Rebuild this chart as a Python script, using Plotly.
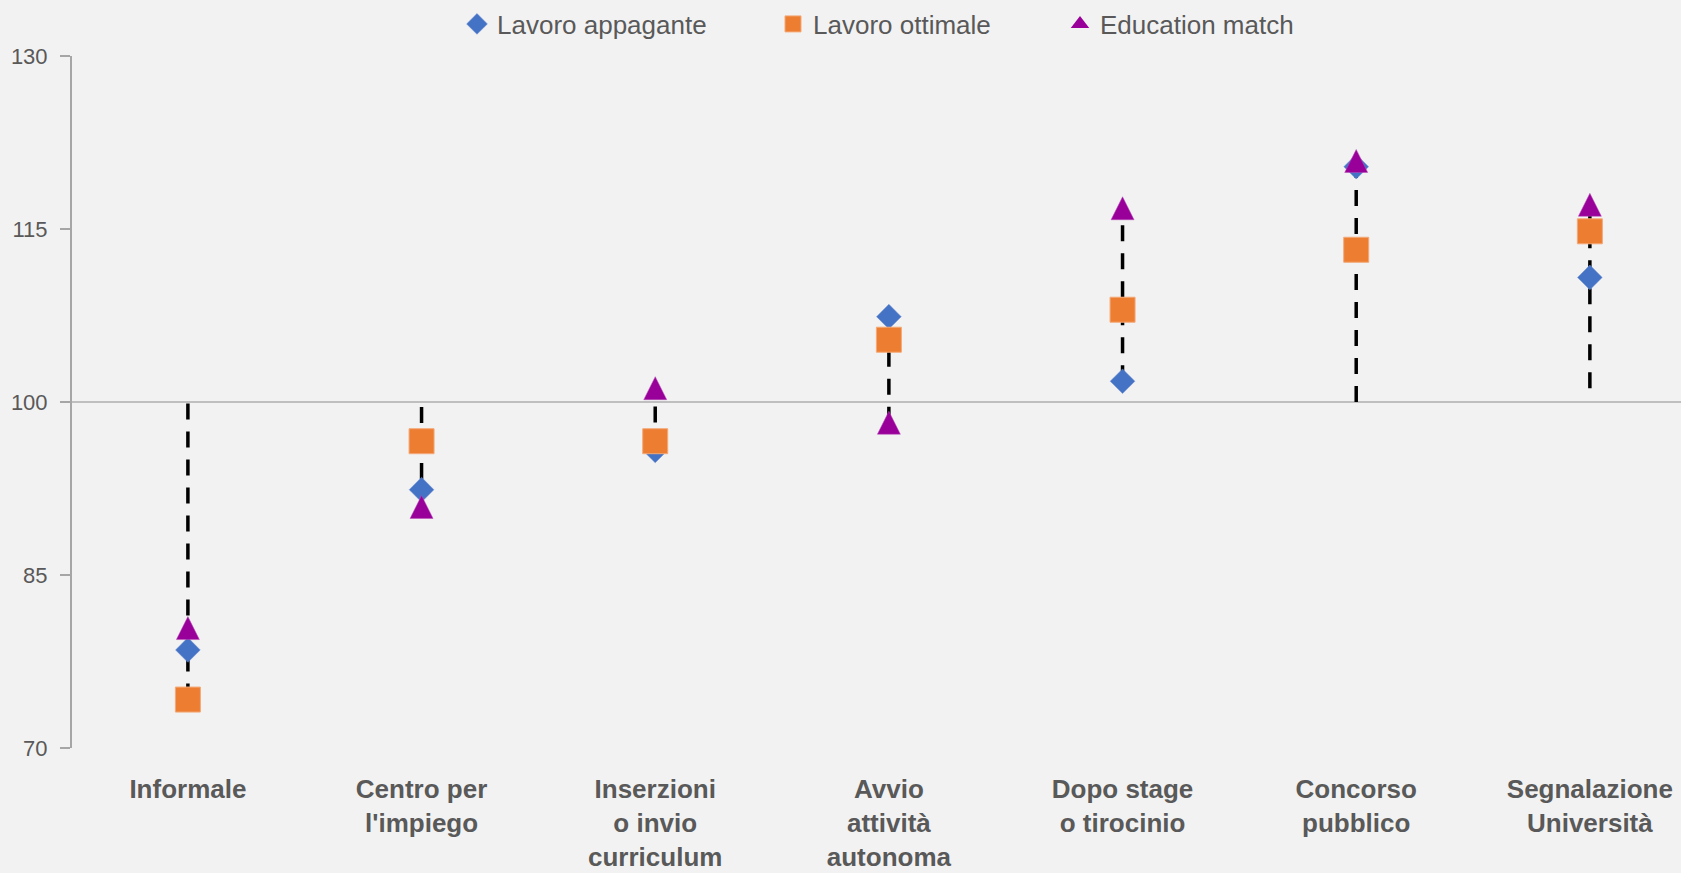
import plotly.graph_objects as go

# Job-search channels
categories = [
    "Informale",
    "Centro per<br>l'impiego",
    "Inserzioni<br>o invio<br>curriculum",
    "Avvio<br>attività<br>autonoma",
    "Dopo stage<br>o tirocinio",
    "Concorso<br>pubblico",
    "Segnalazione<br>Università",
]

# Index values (100 = average)
lavoro_appagante = [78.5, 92.4, 95.8, 107.4, 101.8, 120.4, 110.8]
lavoro_ottimale = [74.2, 96.6, 96.6, 105.4, 108.0, 113.2, 114.8]
education_match = [80.4, 90.9, 101.2, 98.2, 116.8, 120.9, 117.1]

# Extent of the dashed connector for each channel
line_low = [74.2, 90.9, 95.8, 98.2, 101.8, 100.0, 101.2]
line_high = [100.0, 100.0, 101.2, 107.4, 116.8, 120.9, 117.1]

baseline = 100
y_ticks = [70, 85, 100, 115, 130]

FONT = "Liberation Sans, Arial, sans-serif"
TEXT_COLOR = "#595959"
AXIS_COLOR = "#A6A6A6"
BG = "#F2F2F2"

BLUE = "#4472C4"
ORANGE = "#ED7D31"
PURPLE = "#990099"

TRIANGLE_SIZE = 23

x_idx = list(range(len(categories)))

# Build the dashed vertical connectors as one trace separated by gaps
conn_x, conn_y = [], []
for i, lo, hi in zip(x_idx, line_low, line_high):
    conn_x += [i, i, None]
    conn_y += [lo, hi, None]

fig = go.Figure()

fig.add_trace(go.Scatter(
    x=conn_x, y=conn_y, mode="lines",
    line=dict(color="#000000", width=3.5, dash="16px,12px"),
    showlegend=False, hoverinfo="skip",
))

fig.add_trace(go.Scatter(
    x=x_idx, y=lavoro_appagante, mode="markers", name="Lavoro appagante",
    legend="legend",
    marker=dict(symbol="diamond", size=19, color=BLUE,
                line=dict(color="#6F8FD0", width=0.5)),
))
fig.add_trace(go.Scatter(
    x=x_idx, y=lavoro_ottimale, mode="markers", name="Lavoro ottimale",
    legend="legend2",
    marker=dict(symbol="square", size=25, color=ORANGE,
                line=dict(color="#F4A978", width=1)),
))
# Upward triangle with equal width and height, centred on the value:
# a downward arrow flipped by 180 degrees and pulled back by half its size.
fig.add_trace(go.Scatter(
    x=x_idx, y=education_match, mode="markers", name="Education match",
    legend="legend3", showlegend=False,
    marker=dict(symbol="arrow-down", angle=180, standoff=TRIANGLE_SIZE / 2,
                size=TRIANGLE_SIZE, color=PURPLE,
                line=dict(color="#B84DB8", width=0.5)),
))
# Legend entry for the triangle series (plain symbol, no data)
fig.add_trace(go.Scatter(
    x=[None], y=[None], mode="markers", name="Education match",
    legend="legend3", hoverinfo="skip",
    marker=dict(symbol="triangle-up", size=16, color=PURPLE),
))

# Reference line at the average level
fig.add_shape(type="line", xref="paper", x0=0, x1=1, yref="y",
              y0=baseline, y1=baseline,
              line=dict(color="#BFBFBF", width=2), layer="below")

legend_style = dict(
    orientation="h", xref="container", yref="container",
    xanchor="left", y=1 - 24 / 873, yanchor="middle",
    font=dict(family=FONT, size=26, color=TEXT_COLOR),
    itemsizing="trace", bgcolor="rgba(0,0,0,0)",
)

fig.update_layout(
    width=1681, height=873,
    margin=dict(l=72, r=0, t=56, b=125, autoexpand=False),
    paper_bgcolor=BG, plot_bgcolor=BG,
    font=dict(family=FONT, color=TEXT_COLOR),
    legend=dict(legend_style, x=(479 - 22) / 1681),
    legend2=dict(legend_style, x=(795 - 22) / 1681),
    legend3=dict(legend_style, x=(1082 - 22) / 1681),
    xaxis=dict(
        range=[-0.496, 6.39], automargin=False,
        tickmode="array", tickvals=x_idx, ticktext=categories,
        showgrid=False, zeroline=False, showline=False, ticks="",
        tickfont=dict(family=FONT, size=26, color=TEXT_COLOR, weight="bold"),
        ticklabelstandoff=23, ticklabeloverflow="allow",
    ),
    yaxis=dict(
        range=[70, 130], tickvals=y_ticks, automargin=False,
        showgrid=False, zeroline=False,
        showline=True, linecolor=AXIS_COLOR, linewidth=2,
        ticks="outside", ticklen=10, tickwidth=2, tickcolor=AXIS_COLOR,
        tickfont=dict(family=FONT, size=22, color=TEXT_COLOR),
        ticklabelstandoff=8,
    ),
    showlegend=True,
)

fig.write_html("out.html")
